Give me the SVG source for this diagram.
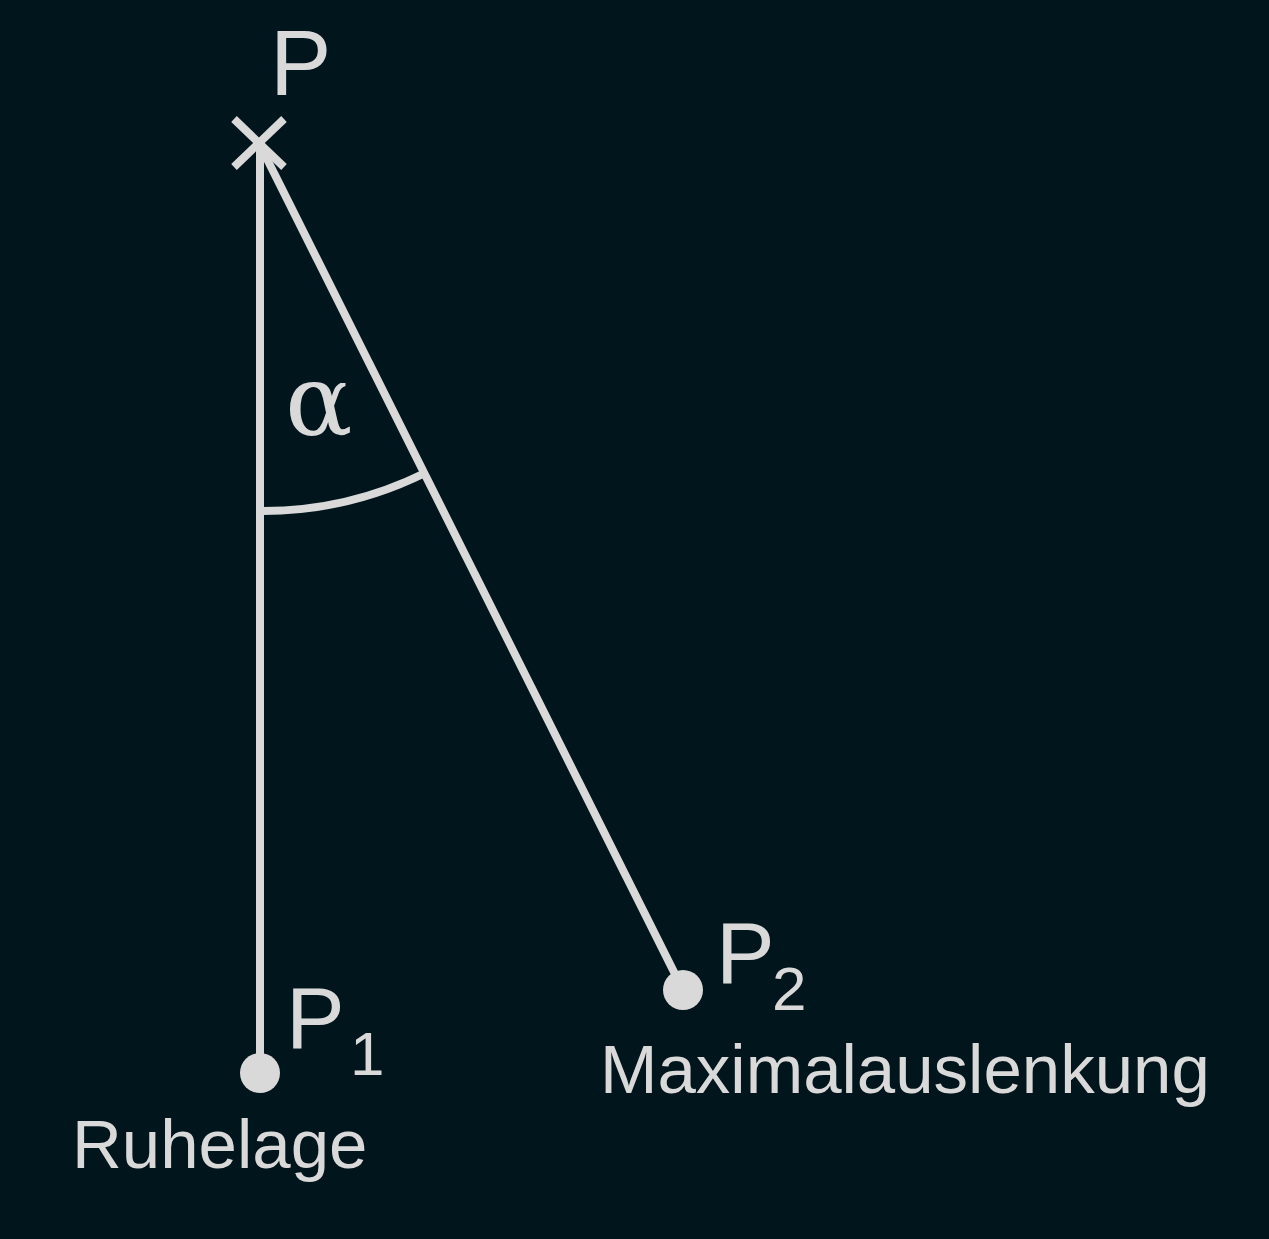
<svg xmlns="http://www.w3.org/2000/svg" width="1269" height="1239" viewBox="0 0 1269 1239">
<style>
.ln{stroke:#d9d9d9;stroke-width:8;fill:none}
.pt{fill:#d9d9d9}
.t{fill:#d9d9d9;font-family:"Liberation Sans",Arial,sans-serif}
</style>
<rect width="1269" height="1239" fill="#00151c"/>
<g id="connectors">
<line class="ln" x1="260" y1="145" x2="260" y2="1073"/>
<line class="ln" x1="260" y1="145" x2="683" y2="990"/>
<path class="ln" d="M263,511 A367,367 0 0 0 425,473"/>
</g>
<g id="P">
<line class="ln" x1="234" y1="119" x2="284" y2="167"/>
<line class="ln" x1="284" y1="119" x2="234" y2="167"/>
<text class="t" x="270" y="95" font-size="92">P</text>
</g>
<g id="alpha">
<text x="285" y="435" font-size="100" fill="#d9d9d9" font-family="'DejaVu Serif','Liberation Serif',serif">α</text>
</g>
<g id="P1">
<circle class="pt" cx="260" cy="1073" r="20"/>
<text class="t" x="286" y="1048" font-size="88">P</text>
<text class="t" x="350" y="1075" font-size="62">1</text>
<text class="t" x="72" y="1168" font-size="69">Ruhelage</text>
</g>
<g id="P2">
<circle class="pt" cx="683" cy="990" r="20"/>
<text class="t" x="716" y="983" font-size="88">P</text>
<text class="t" x="772" y="1010" font-size="62">2</text>
<text class="t" x="600" y="1093" font-size="69">Maximalauslenkung</text>
</g>
</svg>
